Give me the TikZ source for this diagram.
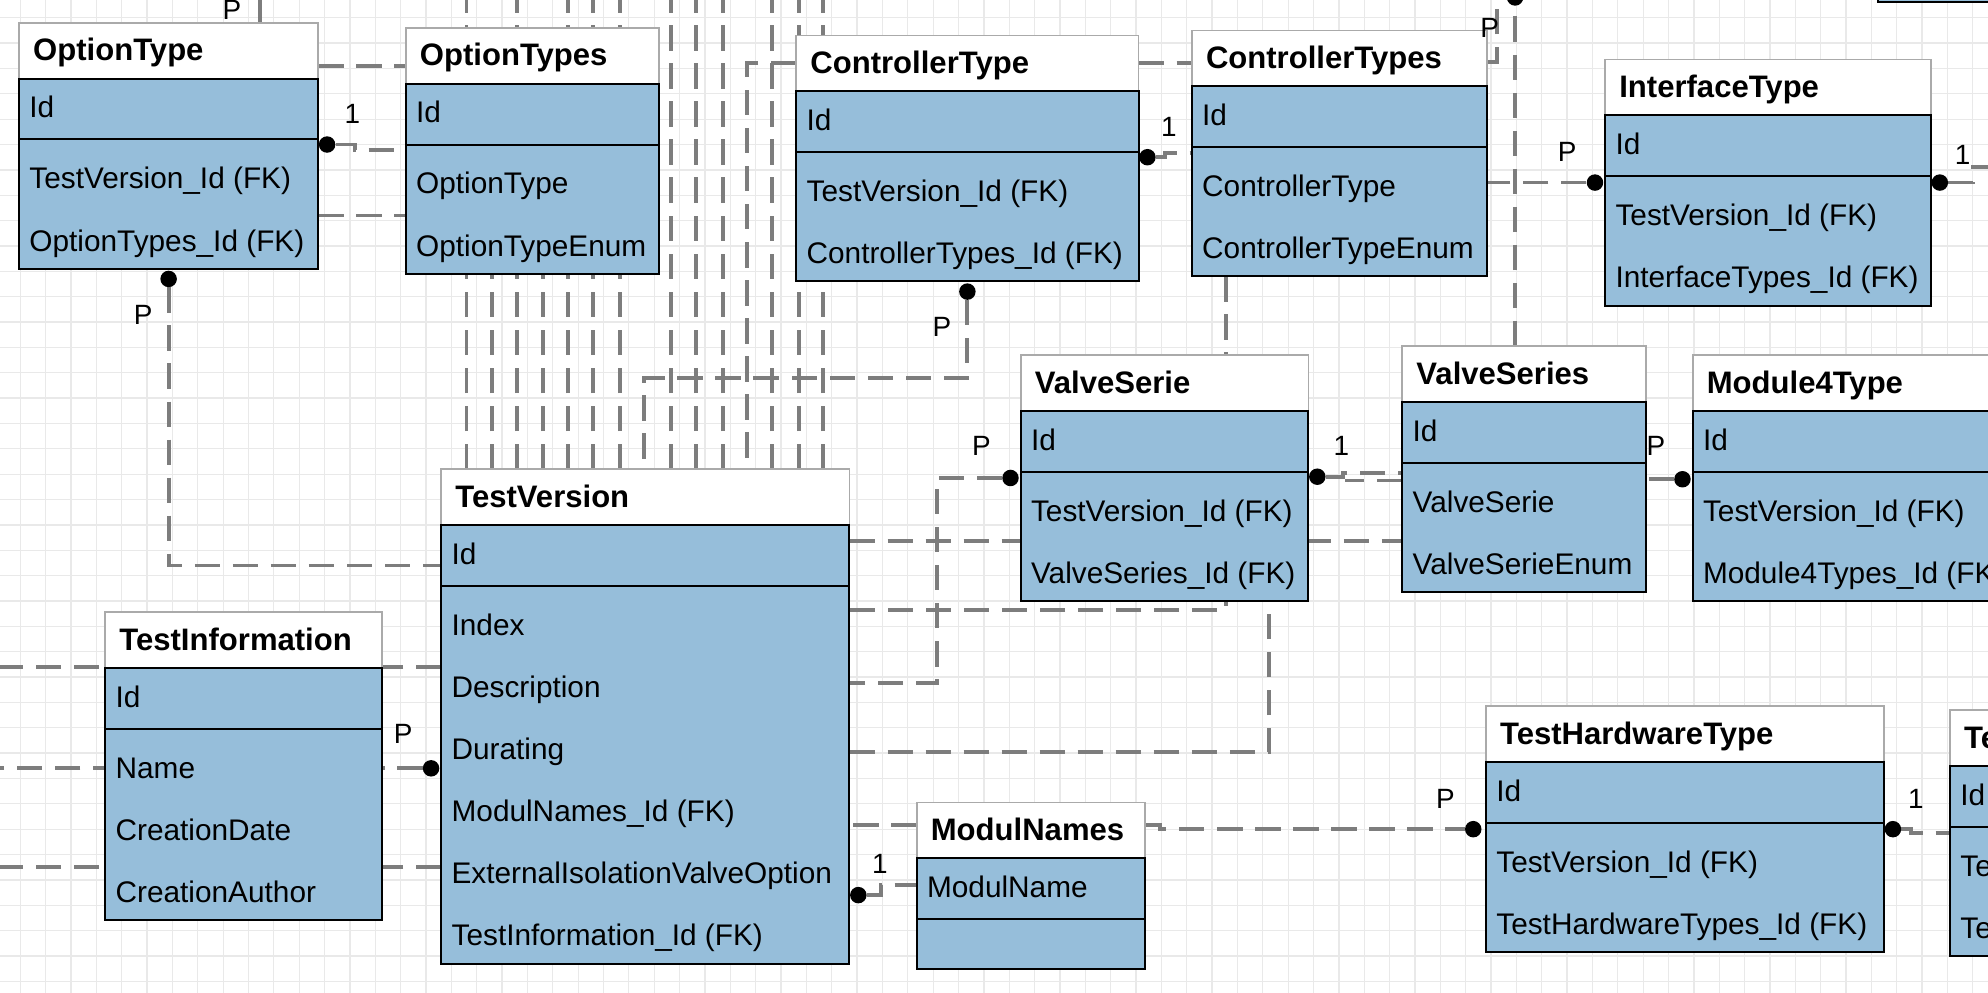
\documentclass[tikz,border=0pt]{standalone}
\usepackage{fontspec}
\setmainfont{Liberation Sans}
\usetikzlibrary{positioning}

\definecolor{tablefill}{RGB}{150,190,218}
\definecolor{linkgray}{RGB}{125,125,125}
\definecolor{gridgray}{RGB}{233,233,233}
\definecolor{headgray}{RGB}{170,170,170}

\pgfdeclarelayer{bggrid}
\pgfdeclarelayer{links}
\pgfsetlayers{bggrid,links,main}

\tikzstyle{head} = [rectangle, draw=headgray, fill=white, line width=1.4pt,
    minimum height=44pt, inner sep=0pt, outer sep=0pt]
\tikzstyle{keybox} = [rectangle, draw=black, fill=tablefill, line width=1.6pt,
    minimum height=48pt, inner sep=0pt, outer sep=0pt]
\tikzstyle{fieldbox} = [keybox, minimum height=0pt]
\tikzstyle{titletext} = [anchor=base west, inner sep=0pt, font=\fontsize{24.5}{28}\selectfont\bfseries]
\tikzstyle{fieldtext} = [anchor=base west, inner sep=0pt, font=\fontsize{23.5}{28}\selectfont]
\tikzstyle{card} = [inner sep=0pt, font=\fontsize{22}{26}\selectfont]
\tikzstyle{dot} = [circle, fill=black, inner sep=0pt, minimum size=13pt]
\tikzstyle{link} = [draw=linkgray, line width=3pt, dash pattern=on 20pt off 10pt]
\tikzstyle{gridline} = [draw=gridgray, line width=1pt]

% name, corner, width, title, key, height of field part, fields
\newcommand{\entity}[7]{%
  \node[head, minimum width=#3, anchor=north west] (#1) at (#2) {};
  \node[titletext] (#1-name) at ([xshift=11pt, yshift=-8pt]#1.west) {#4};
  \node[keybox, minimum width=#3, below=0pt of #1] (#1-id) {};
  \node[fieldtext] (#1-key) at ([xshift=8pt, yshift=-7pt]#1-id.west) {#5};
  \node[fieldbox, minimum width=#3, minimum height=#6, below=0pt of #1-id] (#1-f) {};
  \ifx\relax#7\relax\else
  \foreach \fld [count=\fieldno] in {#7}
    \node[fieldtext] (#1-\fieldno) at ([xshift=8pt, yshift={-39pt-49pt*(\fieldno-1)}]#1-f.north west) {\fld};
  \fi
}

\begin{document}
\begin{tikzpicture}[x=1pt, y=-1pt]
  \useasboundingbox (0,0) rectangle (1568,783);
  \coordinate (edge-top) at (0,-2);
  \coordinate (edge-left) at (-5,0);
  \coordinate (edge-right) at (1580,0);

  \begin{pgfonlayer}{bggrid}
    \fill[white] (0,0) rectangle (1568,783);
    \foreach \gx in {16,36,...,1576} \draw[gridline] (\gx,0) -- (\gx,783);
    \foreach \gy in {14,34,...,794} \draw[gridline] (0,\gy) -- (1568,\gy);
  \end{pgfonlayer}

  \entity{ot}{15,18}{236}{OptionType}{Id}{102}{TestVersion\_Id (FK),OptionTypes\_Id (FK)}
  \entity{ots}{320,22}{200}{OptionTypes}{Id}{102}{OptionType,OptionTypeEnum}
  \entity{ct}{628,28}{270}{ControllerType}{Id}{102}{TestVersion\_Id (FK),ControllerTypes\_Id (FK)}
  \entity{cts}{940,24}{233}{ControllerTypes}{Id}{102}{ControllerType,ControllerTypeEnum}
  \entity{it}{1266,47}{257}{InterfaceType}{Id}{102}{TestVersion\_Id (FK),InterfaceTypes\_Id (FK)}
  \entity{vs}{805,280}{227}{ValveSerie}{Id}{102}{TestVersion\_Id (FK),ValveSeries\_Id (FK)}
  \entity{vss}{1106,273}{192}{ValveSeries}{Id}{102}{ValveSerie,ValveSerieEnum}
  \entity{m4}{1335,280}{260}{Module4Type}{Id}{102}{TestVersion\_Id (FK),Module4Types\_Id (FK}
  \entity{tv}{348,370}{322}{TestVersion}{Id}{298}{Index,Description,Durating,ModulNames\_Id (FK),ExternalIsolationValveOption,TestInformation\_Id (FK)}
  \entity{ti}{83,483}{218}{TestInformation}{Id}{151}{Name,CreationDate,CreationAuthor}
  \entity{mn}{723,633}{180}{ModulNames}{ModulName}{39}{}
  \entity{th}{1172,557}{314}{TestHardwareType}{Id}{102}{TestVersion\_Id (FK),TestHardwareTypes\_Id (FK)}
  \entity{te}{1538,560}{120}{Te}{Id}{102}{Te,Te}
  \node[fieldbox, minimum width=100, minimum height=40, anchor=south west] (top-box) at (1481,1.5) {};

  \node[dot] (ot-one-dot) at ([xshift=7pt, yshift=-4pt]ot-id.south east) {};
  \node[card] (ot-one) at ([xshift=20pt, yshift=24pt]ot-one-dot) {1};
  \node[dot] (ot-p-dot) at ([yshift=-8pt]ot-f.south) {};
  \node[card] (ot-p) at ([xshift=-20pt, yshift=-28pt]ot-p-dot) {P};
  \node[card] (ot-up-p) at ([xshift=50pt, yshift=10pt]ot.north) {P};
  \node[dot] (ct-one-dot) at ([xshift=7pt, yshift=-4pt]ct-id.south east) {};
  \node[card] (ct-one) at ([xshift=17pt, yshift=24pt]ct-one-dot) {1};
  \node[dot] (ct-p-dot) at ([yshift=-8pt]ct-f.south) {};
  \node[card] (ct-p) at ([xshift=-20pt, yshift=-28pt]ct-p-dot) {P};
  \node[card] (cts-p) at ([xshift=2pt, yshift=2pt]cts.north east) {P};
  \node[dot] (it-p-dot) at ([xshift=-8pt, yshift=-5pt]it-id.south west) {};
  \node[card] (it-p) at ([xshift=-22pt, yshift=24pt]it-p-dot) {P};
  \node[dot] (it-one-dot) at ([xshift=7pt, yshift=-5pt]it-id.south east) {};
  \node[card] (it-one) at ([xshift=18pt, yshift=22pt]it-one-dot) {1};
  \coordinate (vss-up) at ([xshift=89pt]vss.north west);
  \node[dot] (vss-top-dot) at (vss-up |- edge-top) {};
  \node[dot] (vs-p-dot) at ([xshift=-8pt, yshift=-5pt]vs-id.south west) {};
  \node[card] (vs-p) at ([xshift=-23pt, yshift=25pt]vs-p-dot) {P};
  \node[dot] (vs-one-dot) at ([xshift=7pt, yshift=-4pt]vs-id.south east) {};
  \node[card] (vs-one) at ([xshift=19pt, yshift=24pt]vs-one-dot) {1};
  \node[dot] (m4-p-dot) at ([xshift=-8pt, yshift=-6pt]m4-id.south west) {};
  \node[card] (m4-p) at ([xshift=-21pt, yshift=26pt]m4-p-dot) {P};
  \node[dot] (tv-p-dot) at ([xshift=-8pt, yshift=-144pt]tv-f.north west) {};
  \node[card] (tv-p) at ([xshift=-22pt, yshift=27pt]tv-p-dot) {P};
  \node[dot] (tv-one-dot) at ([xshift=7pt, yshift=-244pt]tv-f.north east) {};
  \node[card] (tv-one) at ([xshift=17pt, yshift=25pt]tv-one-dot) {1};
  \node[dot] (th-p-dot) at ([xshift=-10pt, yshift=-5pt]th-id.south west) {};
  \node[card] (th-p) at ([xshift=-22pt, yshift=24pt]th-p-dot) {P};
  \node[dot] (th-one-dot) at ([xshift=7pt, yshift=-5pt]th-id.south east) {};
  \node[card] (th-one) at ([xshift=18pt, yshift=24pt]th-one-dot) {1};

  \begin{pgfonlayer}{links}
    \foreach \dx in {20,60,100,120,141,181,201,222,261,282,301} {
      \coordinate (tv-in) at ([xshift=\dx]tv.north west);
      \draw[link] (tv-in) -- (tv-in |- edge-top);
    }
    \foreach \dx in {40,80} {
      \coordinate (tv-in) at ([xshift=\dx]tv.north west);
      \draw[link] (tv-in) -- (tv-in |- ots-f.south);
    }

    \coordinate (ot-r1) at ([yshift=-12pt]ot.east);
    \draw[link] (ot-r1) -- (ot-r1 -| ots.west);
    \draw[link] (ot-one-dot) -- ++(22,0) |- ([yshift=-4pt]ots-id.south west);
    \coordinate (ot-r2) at ([yshift=-60pt]ot-f.north east);
    \draw[link] (ot-r2) -- (ot-r2 -| ots-f.west);
    \draw[link] (ot-p-dot) |- ([yshift=-8pt]tv-id.west);
    \coordinate (ot-up) at ([xshift=72pt]ot.north);
    \draw[link] (ot-up) -- (ot-up |- edge-top);

    \draw[link] (ct.west) -| ([xshift=241pt]tv.north west);
    \draw[link] (ct.east) -- (ct.east -| cts.west);
    \draw[link] (ct-one-dot) -- ++(14,0) |- ([yshift=-4.5pt]cts-id.south west);
    \draw[link] (ct-p-dot) -- ++(0,68) -| ([xshift=160pt]tv.north west);

    \draw[link] ([xshift=27pt]cts-f.south west) |- ([yshift=-19pt]tv-f.north east);
    \draw[link] ([yshift=-3pt]cts.east) -- ++(8,0) coordinate (cts-hook) -- (cts-hook |- edge-top);
    \draw[link] (it-p-dot) -- (it-p-dot -| cts-f.east);
    \draw[link] (it-one-dot) -- ++(26,0) -- ++(0,-12) coordinate (it-hook) -- (it-hook -| edge-right);
    \draw[link] (vss-up) -- (vss-top-dot);

    \draw[link] (vs-p-dot) -- ++(-58,0) |- ([yshift=-77pt]tv-f.north east);
    \draw[link] (vs-one-dot) -- ++(20,0) |- ([yshift=-8pt]vss-id.south west);
    \draw[link] ([yshift=-14pt]vss-id.south west) -- ++(-45,0);
    \draw[link] (m4-p-dot) -- (m4-p-dot -| vss-f.east);

    \coordinate (tv-r1) at ([yshift=11pt]tv-id.east);
    \draw[link] (tv-r1) -- (tv-r1 -| vss-f.west);
    \draw[link] ([yshift=-131pt]tv-f.north east) -| ([xshift=196pt]vs-f.south west);
    \coordinate (mn-l) at ([yshift=4pt]mn.west);
    \draw[link] (mn-l) -- (mn-l -| tv-f.east);
    \draw[link] (tv-one-dot) -- ++(18,0) |- ([yshift=3pt]mn-id.west);
    \draw[link] ([yshift=4pt]mn.east) -- ++(12,0) |- (th-p-dot);
    \draw[link] (th-one-dot) -- ++(14,0) |- ([yshift=-5pt]te-id.south west);

    \foreach \dy in {64,222} {
      \coordinate (tv-l) at ([yshift=-\dy]tv-f.north west);
      \draw[link] (tv-l) -- (tv-l -| edge-left);
    }
    \draw[link] (tv-p-dot) -- (tv-p-dot -| edge-left);
  \end{pgfonlayer}
\end{tikzpicture}
\end{document}
